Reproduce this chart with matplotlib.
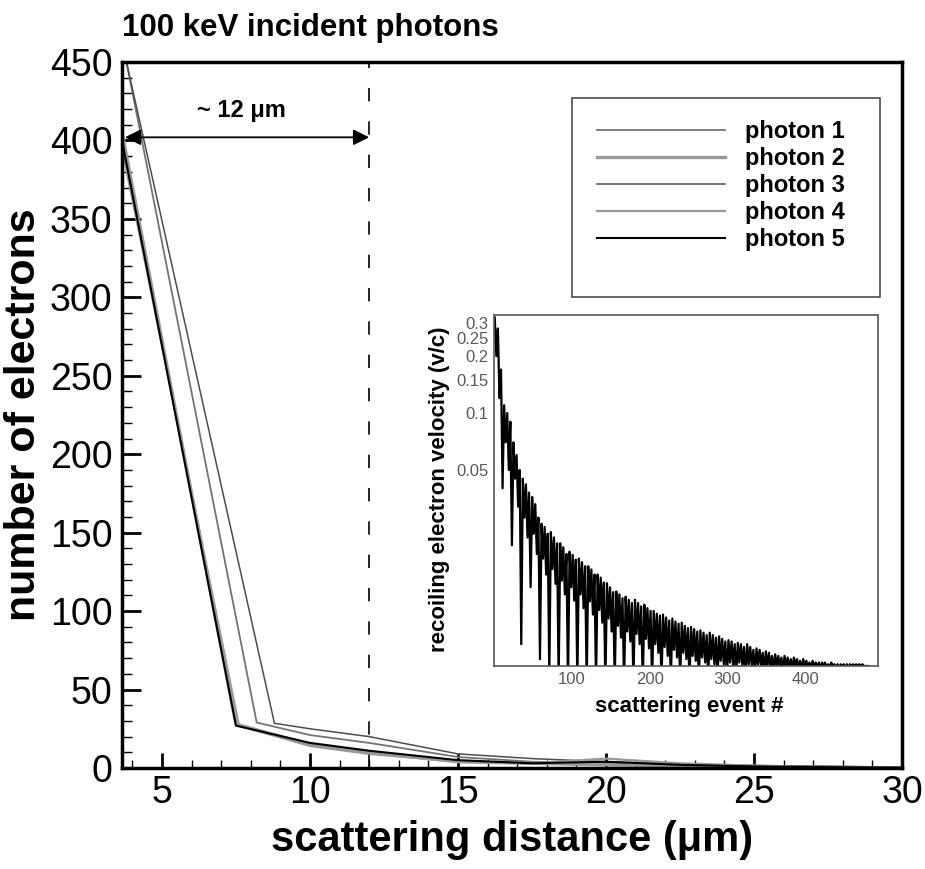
import numpy as np
import matplotlib.pyplot as plt
from matplotlib.patches import Rectangle
from matplotlib.ticker import FixedLocator, NullLocator, MultipleLocator

plt.rcParams['font.family'] = ['Liberation Sans', 'DejaVu Sans']

# main panel: number of electrons vs scattering distance, one curve per photon
photon_labels = ['photon 1', 'photon 2', 'photon 3', 'photon 4', 'photon 5']
dist_p1 = [3.8, 8.2, 10, 12, 15, 17.5, 20, 22.5, 25, 27.5, 30]
count_p1 = [450, 29, 21, 16, 7, 4, 3, 2, 1.5, 1, 0.5]
dist_p2 = [3.65, 7.5, 10, 12, 15, 17.5, 20, 22.5, 25, 27.5, 30]
count_p2 = [405, 28, 15, 10, 4, 3, 2, 1.5, 1, 0.5, 0]
dist_p3 = [3.8, 8.8, 10, 12, 15, 17.5, 20, 22.5, 25, 27.5, 30]
count_p3 = [450, 28.5, 25, 20, 9, 6, 4, 2.5, 1.5, 1, 0.5]
dist_p4 = [3.65, 7.6, 10, 12, 15, 17.5, 20, 22.5, 25, 27.5, 30]
count_p4 = [395, 27, 14, 9, 4, 3, 6, 3, 1.5, 0.5, 0]
dist_p5 = [3.65, 7.5, 10, 12, 15, 17.5, 20, 22.5, 25, 27.5, 30]
count_p5 = [400, 27, 16, 11, 5, 3, 4, 2, 1, 0.5, 0]

cutoff_dist = 12

# inset: recoiling electron velocity per scattering event (every 2nd event)
event_num = np.arange(1, 482, 2)
velocity = [
    0.32, 0.2, 0.28, 0.12, 0.17, 0.04,
    0.11, 0.07, 0.10, 0.05, 0.09, 0.02,
    0.07, 0.045, 0.06, 0.032, 0.05, 0.006,
    0.045, 0.028, 0.042, 0.022, 0.038, 0.012,
    0.036, 0.023, 0.033, 0.018, 0.028, 0.005,
    0.026, 0.017, 0.025, 0.014, 0.023, 0.004,
    0.0235, 0.015, 0.022, 0.0125, 0.0205, 0.0038,
    0.0205, 0.013, 0.0195, 0.011, 0.018, 0.0036,
    0.0185, 0.012, 0.0178, 0.0102, 0.0168, 0.0037,
    0.017, 0.011, 0.0163, 0.0093, 0.0155, 0.0036,
    0.0155, 0.0101, 0.0149, 0.0086, 0.014, 0.0037,
    0.014, 0.0091, 0.0135, 0.0078, 0.0127, 0.0036,
    0.0126, 0.0082, 0.012, 0.007, 0.0113, 0.0037,
    0.0114, 0.0075, 0.011, 0.0065, 0.0105, 0.0036,
    0.0107, 0.007, 0.0103, 0.0062, 0.0099, 0.0037,
    0.0103, 0.0068, 0.0099, 0.006, 0.0095, 0.0036,
    0.0097, 0.0064, 0.0093, 0.0057, 0.009, 0.0037,
    0.009, 0.006, 0.0087, 0.0054, 0.0085, 0.0037,
    0.0086, 0.0058, 0.0083, 0.0052, 0.008, 0.0038,
    0.0082, 0.0056, 0.0079, 0.0051, 0.0077, 0.0038,
    0.0078, 0.0054, 0.0075, 0.005, 0.0073, 0.0038,
    0.0074, 0.0052, 0.0072, 0.0049, 0.007, 0.0039,
    0.0071, 0.0051, 0.0069, 0.0048, 0.0067, 0.0039,
    0.0069, 0.005, 0.0067, 0.0047, 0.0065, 0.004,
    0.0066, 0.0049, 0.0064, 0.0047, 0.0062, 0.004,
    0.0063, 0.0048, 0.0062, 0.0046, 0.006, 0.0041,
    0.0061, 0.0048, 0.006, 0.0046, 0.0058, 0.0041,
    0.006, 0.0047, 0.0058, 0.0046, 0.0056, 0.0042,
    0.0057, 0.0047, 0.0056, 0.0045, 0.0054, 0.0042,
    0.0055, 0.0046, 0.0054, 0.0045, 0.0052, 0.0043,
    0.0053, 0.0046, 0.0052, 0.0045, 0.0051, 0.0043,
    0.0052, 0.0046, 0.0051, 0.0045, 0.005, 0.0044,
    0.0051, 0.0046, 0.005, 0.0045, 0.0049, 0.0044,
    0.005, 0.0046, 0.0049, 0.0045, 0.0048, 0.0044,
    0.0049, 0.0046, 0.0048, 0.0045, 0.0048, 0.0044,
    0.0048, 0.0046, 0.0048, 0.0045, 0.0047, 0.0045,
    0.0048, 0.0046, 0.0047, 0.0045, 0.0047, 0.0045,
    0.0047, 0.0046, 0.0047, 0.0045, 0.0047, 0.0045,
    0.0047, 0.0046, 0.0047, 0.0046, 0.0047, 0.0046,
    0.0047, 0.0046, 0.0047, 0.0046, 0.0046, 0.0046,
    0.0046,
]
vel_ticks = [0.05, 0.1, 0.15, 0.2, 0.25, 0.3]
vel_ticklabels = ['0.05', '0.1', '0.15', '0.2', '0.25', '0.3']
event_ticks = [100, 200, 300, 400]

W, H = 925, 869
fig = plt.figure(figsize=(W / 100, H / 100), dpi=100)
ax = fig.add_axes([122 / W, 1 - 768 / H, 780 / W, 706 / H])

ax.plot(dist_p1, count_p1, color='0.45', lw=1.3, label=photon_labels[0])
ax.plot(dist_p2, count_p2, color='0.6', lw=2.4, label=photon_labels[1])
ax.plot(dist_p3, count_p3, color='0.3', lw=1.1, label=photon_labels[2])
ax.plot(dist_p4, count_p4, color='0.6', lw=1.6, label=photon_labels[3])
ax.plot(dist_p5, count_p5, color='black', lw=1.5, label=photon_labels[4])

ax.axvline(cutoff_dist, color='black', lw=1.2, ls=(0, (8, 12)))
ax.annotate('', xy=(3.75, 402), xytext=(cutoff_dist, 402),
            arrowprops=dict(arrowstyle='<|-|>', color='black', lw=1.3,
                            mutation_scale=24, shrinkA=0, shrinkB=0))
ax.text(7.7, 419, '~ 12 μm', fontsize=17, fontweight='bold',
        ha='center', va='center')

ax.set_xlim(3.65, 30)
ax.set_ylim(0, 450)
ax.xaxis.set_major_locator(MultipleLocator(5))
ax.xaxis.set_minor_locator(MultipleLocator(1))
ax.yaxis.set_major_locator(MultipleLocator(50))
ax.yaxis.set_minor_locator(MultipleLocator(10))
ax.tick_params(which='both', direction='in', labelsize=27, width=2)
ax.tick_params(axis='y', which='major', length=14, pad=7)
ax.tick_params(axis='y', which='minor', length=7, width=1)
ax.tick_params(axis='x', which='major', length=11, pad=5)
ax.tick_params(axis='x', which='minor', length=6, width=1)
for s in ax.spines.values():
    s.set_linewidth(2.5)

ax.set_xlabel('scattering distance (μm)', fontsize=30, fontweight='bold')
ax.set_ylabel('number of electrons', fontsize=31, fontweight='bold')
ax.xaxis.set_label_coords(0.5, -0.073)
ax.yaxis.set_label_coords(-0.1, 0.5)

fig.text(122 / W, 1 - 28 / H, '100 keV incident photons', fontsize=22.5,
         fontweight='bold', ha='left', va='center')

# legend box
ax.add_patch(Rectangle((572 / W, 1 - 297 / H), 308 / W, 199 / H,
                       transform=fig.transFigure, fc='white', ec='0.3',
                       lw=1.2, zorder=4))
leg = ax.legend(loc='upper left', bbox_to_anchor=(597 / W, 1 - 120 / H),
                bbox_transform=fig.transFigure, frameon=False,
                borderaxespad=0, borderpad=0, handlelength=5.4,
                handletextpad=0.85, labelspacing=0.17,
                prop={'size': 17, 'weight': 'bold'})
leg.set_zorder(5)

# inset
ins = fig.add_axes([494 / W, 1 - 666 / H, 384 / W, 351 / H])
ins.plot(event_num, velocity, color='black', lw=1.6)
ins.set_yscale('log')
ins.set_xlim(0, 493)
ins.set_ylim(0.0046, 0.33)
ins.yaxis.set_major_locator(FixedLocator(vel_ticks))
ins.yaxis.set_minor_locator(NullLocator())
ins.set_yticklabels(vel_ticklabels)
ins.set_xticks(event_ticks)
ins.tick_params(length=0, labelsize=12, labelcolor='0.35', pad=4)
for s in ins.spines.values():
    s.set_linewidth(1.2)
    s.set_color('0.35')
ins.set_xlabel('scattering event #', fontsize=16, fontweight='bold')
ins.set_ylabel('recoiling electron velocity (v/c)', fontsize=16,
               fontweight='bold')
ins.xaxis.set_label_coords(0.508, -0.085)
ins.yaxis.set_label_coords(-0.115, 0.504)

fig.savefig('out.png', dpi=100)
